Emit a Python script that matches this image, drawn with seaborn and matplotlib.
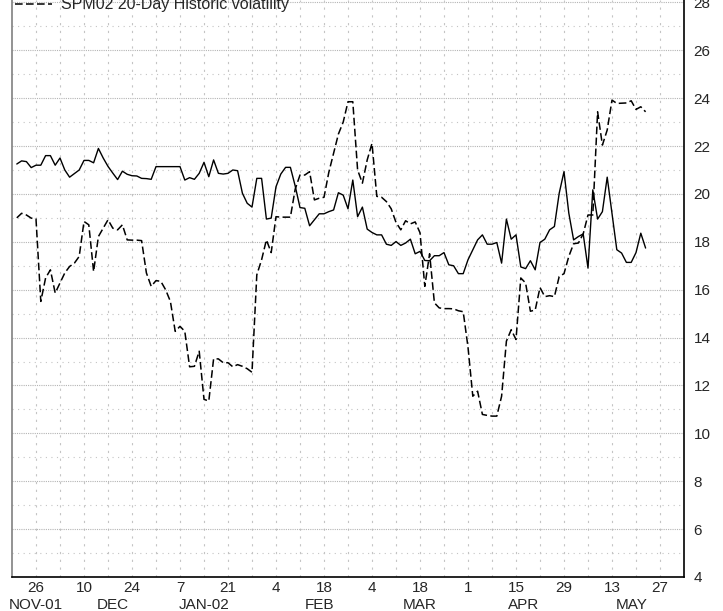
import numpy as np
import pandas as pd
import matplotlib.pyplot as plt
import seaborn as sns
from matplotlib.lines import Line2D

# trading-day index (1 = 20 Nov 2001 ... 132 = 22 May 2002)
day = np.arange(1, 133)

# solid line (implied vol)
implied_vol = [
    21.25, 21.38, 21.35, 21.1, 21.2, 21.2, 21.6, 21.6, 21.2, 21.5,
    21.0, 20.7, 20.85, 21.0, 21.4, 21.4, 21.3, 21.9, 21.5, 21.15,
    20.87, 20.6, 20.95, 20.82, 20.76, 20.75, 20.65, 20.64, 20.61, 21.14,
    21.14, 21.14, 21.14, 21.14, 21.14, 20.58, 20.68, 20.61, 20.86, 21.32,
    20.72, 21.42, 20.86, 20.83, 20.86, 21.0, 20.97, 20.03, 19.61, 19.45,
    20.65, 20.65, 18.95, 18.99, 20.3, 20.83, 21.11, 21.11, 20.33, 19.43,
    19.4, 18.67, 18.92, 19.17, 19.17, 19.26, 19.33, 20.05, 19.95, 19.38,
    20.58, 19.05, 19.45, 18.53, 18.39, 18.29, 18.29, 17.9, 17.85, 18.01,
    17.85, 17.95, 18.11, 17.5, 17.6, 17.22, 17.21, 17.42, 17.42, 17.55,
    17.04, 17.0, 16.67, 16.67, 17.25, 17.67, 18.08, 18.29, 17.9, 17.9,
    17.97, 17.11, 18.95, 18.11, 18.29, 16.95, 16.88, 17.21, 16.83, 17.97,
    18.11, 18.5, 18.64, 20.03, 20.93, 19.2, 18.08, 18.22, 18.33, 16.9,
    20.17, 18.95, 19.26, 20.7, 19.2, 17.67, 17.53, 17.14, 17.14, 17.55,
    18.36, 17.74,
]

# dashed line (20-day historic vol)
hist_vol = [
    19.0, 19.19, 19.12, 18.99, 18.95, 15.51, 16.49, 16.83, 15.86, 16.28,
    16.7, 16.97, 17.11, 17.39, 18.85, 18.71, 16.76, 18.22, 18.57, 18.92,
    18.57, 18.5, 18.71, 18.08, 18.07, 18.07, 18.05, 16.7, 16.14, 16.38,
    16.35, 16.0, 15.51, 14.26, 14.47, 14.26, 12.78, 12.8, 13.43, 11.42,
    11.35, 13.11, 13.11, 12.95, 12.95, 12.78, 12.87, 12.8, 12.7, 12.55,
    16.62, 17.25, 18.08, 17.55, 19.05, 19.03, 19.03, 19.03, 20.2, 20.79,
    20.79, 20.93, 19.75, 19.82, 19.86, 20.9, 21.7, 22.5, 23.0, 23.85,
    23.85, 21.0, 20.45, 21.42, 22.11, 19.9, 19.86, 19.68, 19.38, 18.81,
    18.5, 18.88, 18.75, 18.83, 18.38, 16.14, 17.5, 15.45, 15.24, 15.21,
    15.21, 15.2, 15.12, 15.08, 13.6, 11.55, 11.76, 10.79, 10.75, 10.72,
    10.72, 11.55, 13.85, 14.33, 13.92, 16.49, 16.28, 15.1, 15.15, 16.09,
    15.71, 15.75, 15.71, 16.55, 16.67, 17.39, 17.92, 17.95, 18.33, 19.12,
    19.12, 23.43, 22.04, 22.67, 23.92, 23.78, 23.79, 23.8, 23.89, 23.53,
    23.64, 23.43,
]

day_ticks = list(range(5, 140, 5))
day_labels = ["26", "", "10", "", "24", "", "7", "", "21", "", "4", "", "18", "",
              "4", "", "18", "", "1", "", "15", "", "29", "", "13", "", "27"]
month_pos = [5, 21, 40, 64, 85, 106.5, 129]
month_labels = ["NOV-01", "DEC", "JAN-02", "FEB", "MAR", "APR", "MAY"]

sns.set_style("white")
plt.rcParams["font.family"] = ["Liberation Sans", "DejaVu Sans"]

fig = plt.figure(figsize=(7.23, 6.11), dpi=100)
ax = fig.add_axes([12 / 723, 34 / 611, 672 / 723, 577 / 611])

sns.lineplot(x=day, y=implied_vol, color="black", lw=1.0, ax=ax)
sns.lineplot(x=day, y=hist_vol, color="black", lw=1.1,
             linestyle=(0, (5, 2.2)), ax=ax)

ax.set_xlim(0, 140)
ax.set_ylim(4, 28.1)

# y axis on the right
ax.yaxis.tick_right()
ax.set_yticks(range(4, 29, 2))
ax.set_yticks(range(5, 28, 2), minor=True)
ax.tick_params(axis="y", which="both", length=0, pad=7, labelsize=11)

# x axis: day numbers + month names
ax.xaxis.remove_overlapping_locs = False
ax.set_xticks(day_ticks)
ax.set_xticklabels(day_labels)
ax.set_xticks(month_pos, minor=True)
ax.set_xticklabels(month_labels, minor=True)
ax.tick_params(axis="x", which="major", length=0, pad=3, labelsize=11)
ax.tick_params(axis="x", which="minor", length=0, pad=15, labelsize=11)

# grid
ax.grid(axis="y", which="major", color="#b4b4b4", lw=0.8, linestyle=(0, (1, 1)))
ax.grid(axis="y", which="minor", color="#c4c4c4", lw=0.8, linestyle=(0, (1, 4)))
ax.grid(axis="x", which="major", color="#c4c4c4", lw=0.8, linestyle=(0, (2, 5)))
ax.grid(axis="x", which="minor", visible=False)
ax.set_axisbelow(True)

ax.spines["top"].set_visible(False)
ax.spines["right"].set_color("black")
ax.spines["bottom"].set_color("black")
ax.spines["left"].set_color("#808080")
for s in ["right", "bottom", "left"]:
    ax.spines[s].set_linewidth(1.2)

ax.set_xlabel("")
ax.set_ylabel("")

handle = Line2D([], [], color="black", lw=1.1, linestyle=(0, (5, 2.2)))
ax.legend([handle], ["SPM02 20-Day Historic volatility"],
          loc="center left", bbox_to_anchor=(15 / 723, 1 - 5 / 611),
          bbox_transform=fig.transFigure, frameon=False, fontsize=11.5,
          borderpad=0, borderaxespad=0, handlelength=2.3, handletextpad=0.6)

plt.savefig("out.png", dpi=100)
